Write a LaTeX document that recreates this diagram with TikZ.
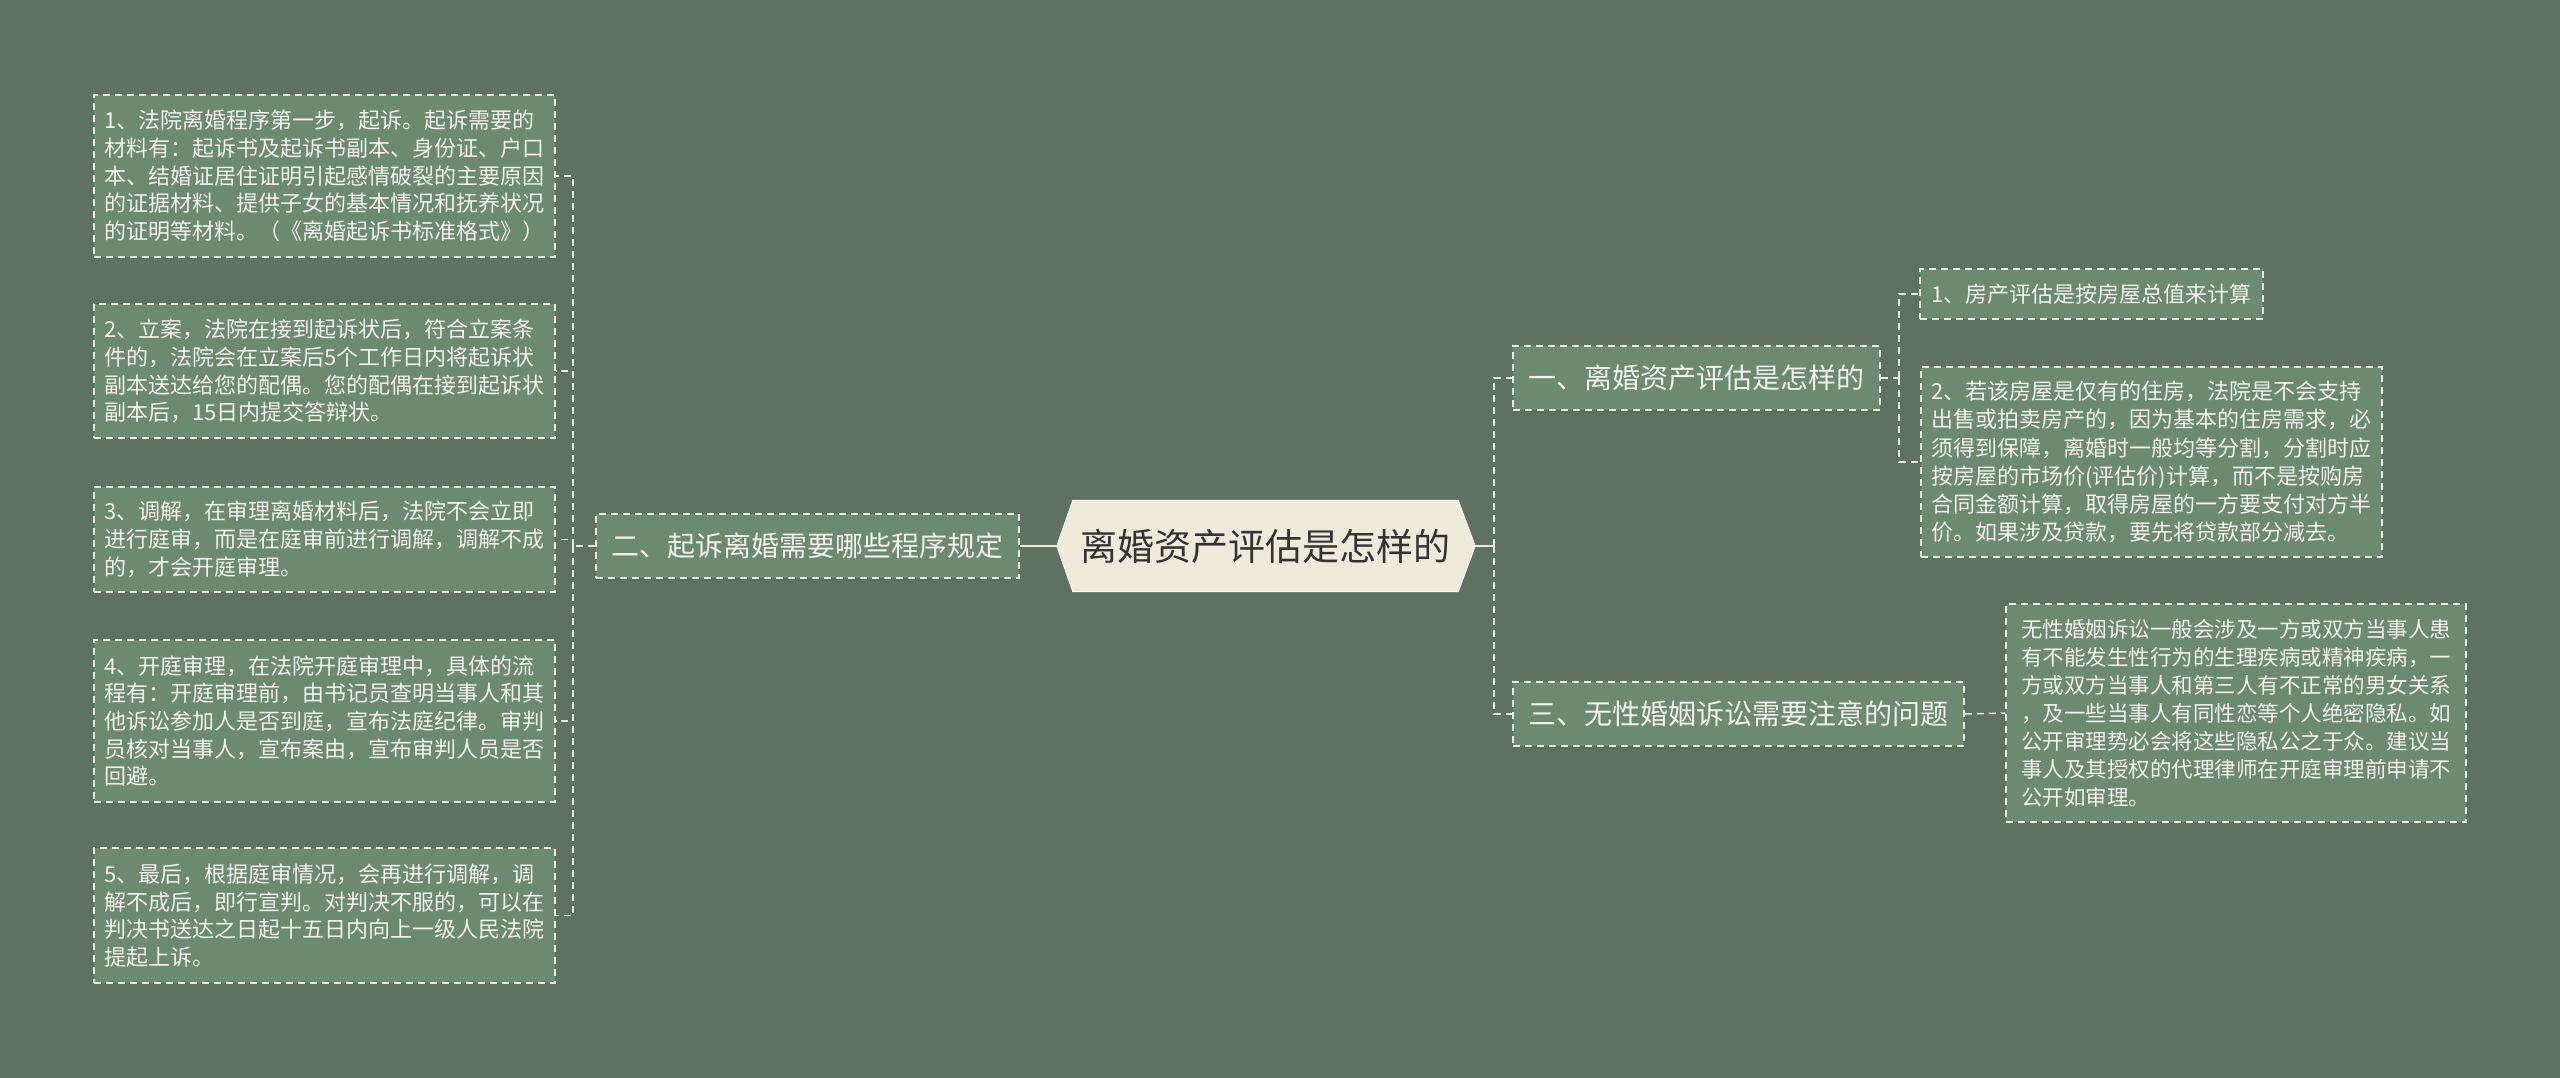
\documentclass[tikz,border=0pt]{standalone}
\usepackage{fontspec}
\setmainfont{Noto Sans CJK SC}
\usetikzlibrary{backgrounds}
\definecolor{bg}{HTML}{5F7262}
\definecolor{boxfill}{HTML}{6C8A70}
\definecolor{dashc}{HTML}{E8EDE4}
\definecolor{txt}{HTML}{F4F4EE}
\definecolor{cfill}{HTML}{EFEBDB}
\definecolor{ctxt}{HTML}{333333}
\begin{document}
\begin{tikzpicture}[x=1pt,y=-1pt,
  box/.style={draw=dashc, fill=boxfill, line width=1.5pt, dash pattern=on 7pt off 5pt,
    text=txt, align=left, inner sep=0pt, anchor=center},
  leaf/.style={box, minimum width=461pt, font=\fontsize{22}{27.7}\selectfont},
  branch/.style={box, minimum height=64pt, font=\fontsize{28}{32}\selectfont},
  conn/.style={draw=dashc, line width=1.5pt, dash pattern=on 7pt off 5pt},
  solidc/.style={draw=cfill, line width=2pt}]
\useasboundingbox (0,0) rectangle (2560,1078);

% central topic
\node[font=\fontsize{37}{40}\selectfont, text=ctxt, minimum width=385pt, minimum height=91pt, inner sep=0pt] (c) at (1265.5,546) {离婚资产评估是怎样的};
\coordinate (cl) at ([xshift=-16pt]c.west);
\coordinate (cr) at ([xshift=17pt]c.east);

% left branch
\node[branch, minimum width=423pt] (n2) at (807.5,546) {二、起诉离婚需要哪些程序规定};
\node[leaf, minimum height=162pt] (b1) at (324.5,176) {1、法院离婚程序第一步，起诉。起诉需要的\\材料有：起诉书及起诉书副本、身份证、户口\\本、结婚证居住证明引起感情破裂的主要原因\\的证据材料、提供子女的基本情况和抚养状况\\的证明等材料。（《离婚起诉书标准格式》）};
\node[leaf, minimum height=134pt] (b2) at (324.5,371) {2、立案，法院在接到起诉状后，符合立案条\\件的，法院会在立案后5个工作日内将起诉状\\副本送达给您的配偶。您的配偶在接到起诉状\\副本后，15日内提交答辩状。};
\node[leaf, minimum height=105pt] (b3) at (324.5,539.5) {3、调解，在审理离婚材料后，法院不会立即\\进行庭审，而是在庭审前进行调解，调解不成\\的，才会开庭审理。};
\node[leaf, minimum height=162pt] (b4) at (324.5,721) {4、开庭审理，在法院开庭审理中，具体的流\\程有：开庭审理前，由书记员查明当事人和其\\他诉讼参加人是否到庭，宣布法庭纪律。审判\\员核对当事人，宣布案由，宣布审判人员是否\\回避。};
\node[leaf, minimum height=135pt] (b5) at (324.5,915.5) {5、最后，根据庭审情况，会再进行调解，调\\解不成后，即行宣判。对判决不服的，可以在\\判决书送达之日起十五日内向上一级人民法院\\提起上诉。};

% right branches
\node[branch, minimum width=367pt] (n1) at (1696.5,378) {一、离婚资产评估是怎样的};
\node[branch, minimum width=451pt] (n3) at (1738.5,714) {三、无性婚姻诉讼需要注意的问题};
\node[box, minimum width=343pt, minimum height=50pt, font=\fontsize{22}{28}\selectfont] (a1) at (2091.5,294) {1、房产评估是按房屋总值来计算};
\node[box, minimum width=461pt, minimum height=190pt, font=\fontsize{22}{28.3}\selectfont] (a2) at (2151.5,462) {2、若该房屋是仅有的住房，法院是不会支持\\出售或拍卖房产的，因为基本的住房需求，必\\须得到保障，离婚时一般均等分割，分割时应\\按房屋的市场价(评估价)计算，而不是按购房\\合同金额计算，取得房屋的一方要支付对方半\\价。如果涉及贷款，要先将贷款部分减去。};
\node[box, minimum width=460pt, minimum height=218pt, font=\fontsize{21.5}{28}\selectfont] (d1) at (2236,713) {无性婚姻诉讼一般会涉及一方或双方当事人患\\有不能发生性行为的生理疾病或精神疾病，一\\方或双方当事人和第三人有不正常的男女关系\\，及一些当事人有同性恋等个人绝密隐私。如\\公开审理势必会将这些隐私公之于众。建议当\\事人及其授权的代理律师在开庭审理前申请不\\公开如审理。};

% connectors
\coordinate (lx) at (573,546);
\draw[solidc] (n2.east) -- (cl);
\draw[conn] (n2.west) -- (lx);
\foreach \b in {b1,b2,b3,b4,b5} \draw[conn] (lx) |- (\b.east);

\coordinate (rx) at (1494,546);
\draw[solidc] (cr) -- (rx);
\draw[conn] (rx) |- (n1.west);
\draw[conn] (rx) |- (n3.west);

\coordinate (ax) at (1899,378);
\draw[conn] (n1.east) -- (ax);
\draw[conn] (ax) |- (a1.west);
\draw[conn] (ax) |- (a2.west);

\draw[conn] (n3.east) -- (d1.west);

\begin{scope}[on background layer]
  \fill[bg] (0,0) rectangle (2560,1078);
  \filldraw[fill=cfill, draw=white!80!cfill, line width=1pt] (c.north west) -- (c.north east) -- (cr) -- (c.south east) -- (c.south west) -- (cl) -- cycle;
\end{scope}
\end{tikzpicture}
\end{document}
